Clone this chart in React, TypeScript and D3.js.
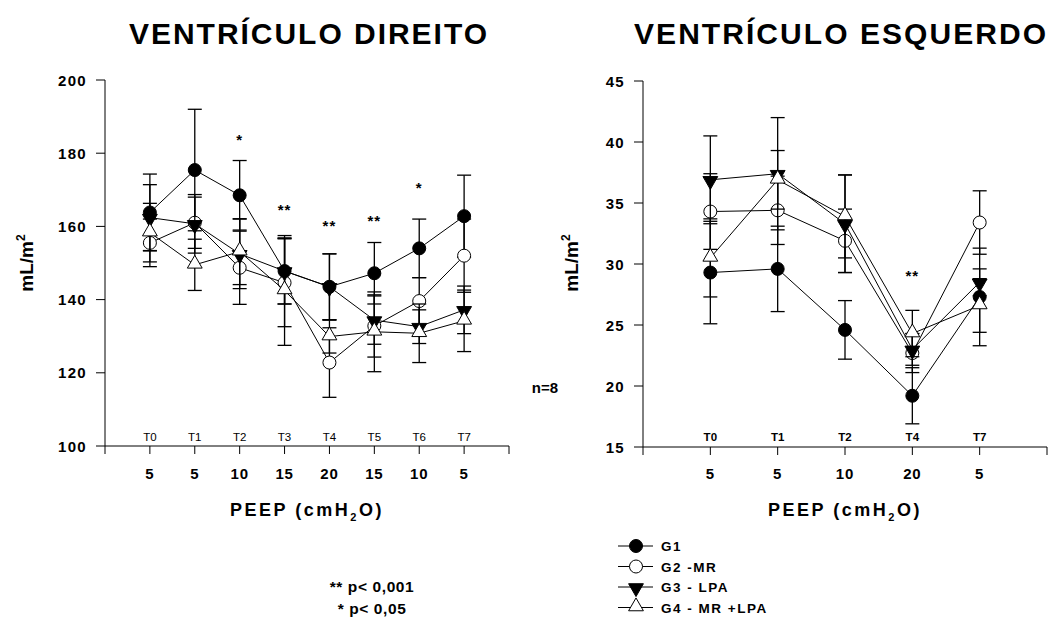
import React from 'react';
import * as d3 from 'd3';

// ventrículo direito
const leftTimes = ['T0', 'T1', 'T2', 'T3', 'T4', 'T5', 'T6', 'T7'];
const leftPeep = ['5', '5', '10', '15', '20', '15', '10', '5'];
const leftG1 = [163.8, 175.4, 168.5, 147.8, 143.5, 147.2, 154.0, 162.8];
const leftG1Err = [10.5, 16.6, 9.5, 9, 9, 8.4, 8, 11.2];
const leftG2 = [155.5, 161, 148.7, 144.6, 122.8, 132.8, 139.6, 152];
const leftG2Err = [6.5, 7, 10, 12, 9.5, 8.5, 6.4, 10];
const leftG3 = [162.4, 160.7, 152.5, 147.8, 143.5, 134.4, 132.6, 137.2];
const leftG3Err = [9, 8, 9.5, 9, 9, 6.6, 4.6, 6.5];
const leftG4 = [158.3, 149.5, 153.1, 142.5, 129.9, 131.2, 130.8, 134.2];
const leftG4Err = [8, 7, 9, 15, 4.5, 10.9, 8, 8.4];
const leftStars = ['', '', '*', '**', '**', '**', '*', ''];
const leftStarAt = [0, 0, 184.5, 165.3, 161, 162.4, 171.3, 0];
const leftTicks = [100, 120, 140, 160, 180, 200];

// ventrículo esquerdo
const rightTimes = ['T0', 'T1', 'T2', 'T4', 'T7'];
const rightPeep = ['5', '5', '10', '20', '5'];
const rightG1 = [29.3, 29.6, 24.6, 19.2, 27.3];
const rightG1Err = [4.2, 3.5, 2.4, 2.3, 4];
const rightG2 = [34.3, 34.4, 31.9, 22.7, 33.4];
const rightG2Err = [3.1, 2.8, 2.6, 1.6, 2.6];
const rightG3 = [36.9, 37.4, 33.3, 23.0, 28.5];
const rightG3Err = [3.6, 4.6, 4, 1.3, 1.1];
const rightG4 = [30.5, 36.9, 33.9, 24.3, 26.6];
const rightG4Err = [3.2, 2.4, 3.4, 1.9, 2.2];
const rightStars = ['', '', '', '**', ''];
const rightStarAt = [0, 0, 0, 29.3, 0];
const rightTicks = [15, 20, 25, 30, 35, 40, 45];

const groups = ['G1', 'G2 -MR', 'G3 - LPA', 'G4 - MR +LPA'];
const markers = ['dot', 'circle', 'down', 'up'];

const FONT = '"Liberation Sans", Arial, sans-serif';
const tri = d3.symbol().type(d3.symbolTriangle).size(95)() as string;

const Marker = ({ kind, x, y }: { kind: string; x: number; y: number }) => {
  if (kind === 'dot') return <circle cx={x} cy={y} r={6.5} fill="#000" stroke="#000" />;
  if (kind === 'circle') return <circle cx={x} cy={y} r={6.5} fill="#fff" stroke="#000" strokeWidth={1} />;
  if (kind === 'down')
    return <path d={tri} transform={`translate(${x},${y + 1}) rotate(180)`} fill="#000" stroke="#000" />;
  return <path d={tri} transform={`translate(${x},${y - 1})`} fill="#fff" stroke="#000" />;
};

interface PanelProps {
  left: number;
  right: number;
  top: number;
  bottom: number;
  yDomain: [number, number];
  yTicks: number[];
  times: string[];
  peep: string[];
  series: number[][];
  errs: number[][];
  stars: string[];
  starAt: number[];
  boldTimes: boolean;
  title: string;
  titleX: number;
  titleW: number;
  labelX: number;
}

const Panel = (p: PanelProps) => {
  const n = p.times.length;
  const x = d3.scaleLinear().domain([0, n + 1]).range([p.left, p.right]);
  const y = d3.scaleLinear().domain(p.yDomain).range([p.bottom, p.top]);
  const line = d3.line<number>().x((_, i) => x(i + 1)).y((d) => y(d));
  const cx = (p.left + p.right) / 2;

  return (
    <g fontFamily={FONT}>
      <text x={p.titleX} y={44} textAnchor="middle" fontSize={30} fontWeight="bold"
        textLength={p.titleW} lengthAdjust="spacing">
        {p.title}
      </text>

      {/* axes */}
      <line x1={p.left} x2={p.left} y1={p.top} y2={p.bottom} stroke="#000" />
      <line x1={p.left} x2={p.right} y1={p.bottom} y2={p.bottom} stroke="#000" />
      {p.yTicks.map((t) => (
        <g key={t}>
          <line x1={p.left - 9} x2={p.left} y1={y(t)} y2={y(t)} stroke="#000" />
          <text x={p.left - 18} y={y(t) + 5.5} textAnchor="end" fontSize={15} fontWeight="bold" letterSpacing={1.3}>
            {t}
          </text>
        </g>
      ))}
      {d3.range(0, n + 2).map((i) => (
        <line key={i} x1={x(i)} x2={x(i)} y1={p.bottom} y2={p.bottom + 8} stroke="#000" />
      ))}
      {p.peep.map((v, i) => (
        <text key={i} x={x(i + 1)} y={479} textAnchor="middle" fontSize={15} fontWeight="bold" letterSpacing={0.8}>
          {v}
        </text>
      ))}
      {p.times.map((t, i) => (
        <text key={t} x={x(i + 1)} y={441} textAnchor="middle" fontSize={11.5}
          fontWeight={p.boldTimes ? 'bold' : 'normal'}>
          {t}
        </text>
      ))}

      <text transform={`translate(${p.labelX},263) rotate(-90)`} textAnchor="middle" fontSize={19} fontWeight="bold">
        mL/m<tspan dy={-8} fontSize={12}>2</tspan>
      </text>
      <text x={cx} y={516} textAnchor="middle" fontSize={18} fontWeight="bold" letterSpacing={2.5}>
        PEEP (cmH<tspan dy={5} fontSize={11}>2</tspan><tspan dy={-5}>O)</tspan>
      </text>

      {p.stars.map((s, i) =>
        s ? (
          <text key={i} x={x(i + 1)} y={y(p.starAt[i]) + 8} textAnchor="middle" fontSize={15}
            fontWeight="bold" fill="#000" letterSpacing={1}>
            {s}
          </text>
        ) : null
      )}

      {/* series */}
      {p.series.map((vals, si) => (
        <g key={si}>
          <path d={line(vals) as string} fill="none" stroke="#000" strokeWidth={1} />
          {vals.map((v, i) => {
            const e = p.errs[si][i];
            const px = x(i + 1);
            return (
              <g key={i} stroke="#000" strokeWidth={1.3}>
                <line x1={px} x2={px} y1={y(v - e)} y2={y(v + e)} />
                <line x1={px - 7} x2={px + 7} y1={y(v + e)} y2={y(v + e)} />
                <line x1={px - 7} x2={px + 7} y1={y(v - e)} y2={y(v - e)} />
              </g>
            );
          })}
          {vals.map((v, i) => (
            <Marker key={i} kind={markers[si]} x={x(i + 1)} y={y(v)} />
          ))}
        </g>
      ))}
    </g>
  );
};

export default function App() {
  return (
    <svg width={1057} height={617} style={{ position: 'absolute', left: 0, top: 0, background: '#fff' }}>
      <rect width={1057} height={617} fill="#fff" />
      <Panel
        left={105} right={509} top={80} bottom={446}
        yDomain={[100, 200]} yTicks={leftTicks}
        times={leftTimes} peep={leftPeep}
        series={[leftG1, leftG2, leftG3, leftG4]}
        errs={[leftG1Err, leftG2Err, leftG3Err, leftG4Err]}
        stars={leftStars} starAt={leftStarAt}
        boldTimes={false} title="VENTRÍCULO DIREITO" titleX={308} titleW={358} labelX={33}
      />
      <Panel
        left={643} right={1047} top={81} bottom={447}
        yDomain={[15, 45]} yTicks={rightTicks}
        times={rightTimes} peep={rightPeep}
        series={[rightG1, rightG2, rightG3, rightG4]}
        errs={[rightG1Err, rightG2Err, rightG3Err, rightG4Err]}
        stars={rightStars} starAt={rightStarAt}
        boldTimes={true} title="VENTRÍCULO ESQUERDO" titleX={840} titleW={412} labelX={578}
      />

      <g fontFamily={FONT} fontWeight="bold">
        <text x={545} y={393} textAnchor="middle" fontSize={15}>n=8</text>
        <text x={372} y={592} textAnchor="middle" fontSize={15.5} letterSpacing={0.6}>** p&lt; 0,001</text>
        <text x={372} y={614} textAnchor="middle" fontSize={15.5} letterSpacing={0.6}>* p&lt; 0,05</text>
        {groups.map((g, i) => {
          const ly = 546 + i * 20.5;
          return (
            <g key={g}>
              <line x1={618} x2={653} y1={ly} y2={ly} stroke="#000" />
              <Marker kind={markers[i]} x={636} y={ly} />
              <text x={661} y={ly + 5} fontSize={13.5} letterSpacing={1.5}>{g}</text>
            </g>
          );
        })}
      </g>
    </svg>
  );
}
